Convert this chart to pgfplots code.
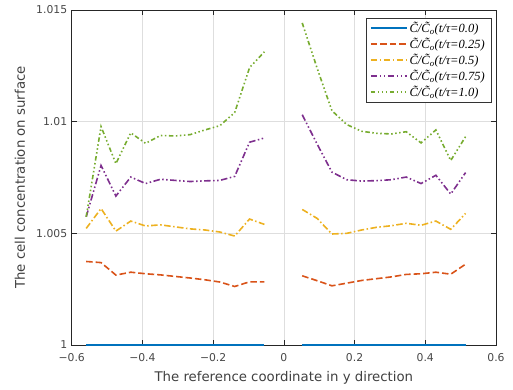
\documentclass[border=0pt]{standalone}
\usepackage{fontspec}
\setmainfont{DejaVu Sans}
\newfontfamily\legfont{Liberation Serif}
\usepackage{pgfplots}
\usepackage{pgfplotstable}
\pgfplotsset{compat=1.18}

\definecolor{cBlue}{rgb}{0,0.447,0.741}
\definecolor{cOrange}{rgb}{0.850,0.325,0.098}
\definecolor{cYellow}{rgb}{0.929,0.694,0.125}
\definecolor{cPurple}{rgb}{0.494,0.184,0.556}
\definecolor{cGreen}{rgb}{0.466,0.674,0.188}

% surface concentration C/C0 along y; the gap near y=0 is a nan row
\pgfplotstableread{
x       c0     c25      c50      c75      c100
-0.559  1.0    1.00374  1.00522  1.00574  1.00574
-0.517  1.0    1.00369  1.00611  1.00804  1.00978
-0.475  1.0    1.00313  1.00510  1.00667  1.00812
-0.433  1.0    1.00326  1.00555  1.00752  1.00950
-0.391  1.0    1.00319  1.00533  1.00723  1.00903
-0.349  1.0    1.00314  1.00538  1.00742  1.00938
-0.307  1.0    1.00307  1.00529  1.00737  1.00936
-0.265  1.0    1.00300  1.00520  1.00732  1.00942
-0.223  1.0    1.00292  1.00515  1.00735  1.00963
-0.181  1.0    1.00282  1.00506  1.00737  1.00982
-0.139  1.0    1.00262  1.00488  1.00755  1.01041
-0.097  1.0    1.00283  1.00564  1.00908  1.01242
-0.055  1.0    1.00283  1.00540  1.00927  1.01313
0.000   nan    nan      nan      nan      nan
0.052   1.0    1.00310  1.00607  1.01031  1.01442
0.094   1.0    1.00288  1.00567  1.00900  1.01240
0.136   1.0    1.00265  1.00497  1.00774  1.01049
0.178   1.0    1.00277  1.00500  1.00740  1.00987
0.220   1.0    1.00289  1.00515  1.00734  1.00957
0.262   1.0    1.00297  1.00527  1.00736  1.00948
0.304   1.0    1.00305  1.00534  1.00740  1.00945
0.346   1.0    1.00316  1.00545  1.00752  1.00955
0.388   1.0    1.00319  1.00536  1.00723  1.00905
0.430   1.0    1.00326  1.00555  1.00760  1.00963
0.472   1.0    1.00317  1.00518  1.00676  1.00826
0.514   1.0    1.00362  1.00589  1.00772  1.00933
}\conc

\newcommand{\ratio}[1]{\~{C}/\~{C}\textsubscript{o}(t/τ=#1)}

\begin{document}
\begin{tikzpicture}
\begin{axis}[
  scale only axis,
  width=424.3pt, height=335pt,
  xmin=-0.6, xmax=0.6, ymin=1, ymax=1.015,
  xtick={-0.6,-0.4,-0.2,0,0.2,0.4,0.6},
  xticklabels={−0.6,−0.4,−0.2,0,0.2,0.4,0.6},
  ytick={1,1.005,1.01,1.015},
  yticklabels={1,1.005,1.01,1.015},
  tick align=inside,
  major tick length=5pt,
  grid=major,
  grid style={color=black!13, line width=0.5pt},
  axis line style={color=black!85, line width=0.6pt},
  tick style={color=black!85, line width=0.6pt},
  tick label style={font=\fontsize{10.8}{12}\selectfont, color=black!72},
  xticklabel style={yshift=-5pt},
  yticklabel style={xshift=-1pt},
  label style={font=\fontsize{13.3}{15}\selectfont, color=black!75},
  xlabel={The reference coordinate in y direction},
  ylabel={The cell concentration on surface},
  xlabel style={at={(axis description cs:0.5,-0.0985)}, anchor=center},
  ylabel style={at={(axis description cs:-0.1218,0.5)}, anchor=center},
  legend style={at={(axis description cs:0.988,0.976)}, anchor=north east,
    draw=black!80, fill=white,
    font=\legfont\itshape\fontsize{12.5}{13.8}\selectfont,
    cells={anchor=west}, inner xsep=4pt, inner ysep=2pt},
  legend image code/.code={\draw[#1, line width=1.5pt] (0pt,0.3pt) -- (36pt,0.3pt);},
  unbounded coords=jump,
  clip=false,
  every axis plot/.append style={line width=1.6pt},
]
\addplot[cBlue] table[x=x, y=c0] {\conc};
\addlegendentry{\ratio{0.0}}
\addplot[cOrange, dash pattern=on 6.5pt off 3pt] table[x=x, y=c25] {\conc};
\addlegendentry{\ratio{0.25}}
\addplot[cYellow, dash pattern=on 6.5pt off 2.5pt on 1.5pt off 2.5pt] table[x=x, y=c50] {\conc};
\addlegendentry{\ratio{0.5}}
\addplot[cPurple, dash pattern=on 6.5pt off 2.5pt on 1.5pt off 2.5pt on 1.5pt off 2.5pt] table[x=x, y=c75] {\conc};
\addlegendentry{\ratio{0.75}}
\addplot[cGreen, dash pattern=on 4.5pt off 2.5pt on 1.5pt off 2.5pt on 1.5pt off 2.5pt on 1.5pt off 2.5pt] table[x=x, y=c100] {\conc};
\addlegendentry{\ratio{1.0}}
\end{axis}
\pgfresetboundingbox
\path[use as bounding box] ([xshift=-71.7pt,yshift=-44pt]current axis.south west)
  rectangle ([xshift=17pt,yshift=10pt]current axis.north east);
\end{tikzpicture}
\end{document}
